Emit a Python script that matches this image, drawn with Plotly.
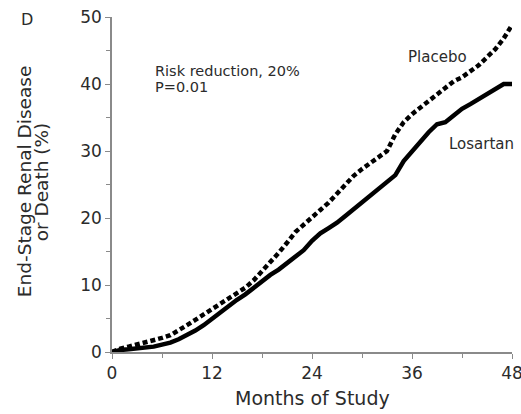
import plotly.graph_objects as go

months = list(range(0, 49))
placebo = [0, 0.5, 0.8, 1.1, 1.4, 1.7, 2.1, 2.5, 3.2, 4.0, 4.8, 5.6, 6.5, 7.2, 8.0, 8.8, 9.6,
           10.7, 12.0, 13.4, 14.8, 16.3, 17.9, 19.0, 20.0, 21.2, 22.3, 23.6, 25.0, 26.3, 27.3,
           28.2, 29.0, 30.0, 32.5, 34.3, 35.5, 36.5, 37.5, 38.6, 39.6, 40.4, 41.0, 41.8, 42.8,
           44.0, 45.2, 46.8, 48.8]
losartan = [0, 0.3, 0.4, 0.5, 0.6, 0.8, 1.1, 1.4, 1.9, 2.5, 3.2, 4.0, 5.0, 6.0, 6.9, 7.8, 8.6,
            9.6, 10.5, 11.5, 12.3, 13.3, 14.2, 15.2, 16.6, 17.7, 18.5, 19.3, 20.3, 21.3, 22.3,
            23.2, 24.2, 25.2, 26.4, 28.5, 30.0, 31.5, 32.8, 34.0, 34.3, 35.3, 36.3, 37.0, 37.8,
            38.6, 39.2, 40.0, 40.0]
x_ticks = [0, 12, 24, 36, 48]
y_ticks = [0, 10, 20, 30, 40, 50]

FONT = "DejaVu Sans, Liberation Sans, Arial, sans-serif"
TXT = "#2b2b2b"
AX = "#8a8a8a"

fig = go.Figure()
fig.add_trace(go.Scatter(x=months, y=losartan, mode="lines", name="Losartan",
                         line=dict(color="black", width=4.5)))
fig.add_trace(go.Scatter(x=months, y=placebo, mode="lines", name="Placebo",
                         line=dict(color="black", width=4.5, dash="5px,3px")))

fig.update_layout(
    width=521, height=414,
    margin=dict(l=112, r=9, t=17, b=62),
    paper_bgcolor="white", plot_bgcolor="white",
    showlegend=False,
    font=dict(family=FONT, color=TXT, size=17),
    xaxis=dict(range=[0, 48], tickvals=x_ticks, showgrid=False, zeroline=False,
               showline=True, linecolor=AX, linewidth=1.5, automargin=False,
               ticks="outside", ticklen=5, tickcolor=AX, tickwidth=1.2,
               ticklabeloverflow="allow",
               minor=dict(dtick=6, tick0=0, ticks="outside", ticklen=4, tickcolor=AX),
               tickfont=dict(size=17, color=TXT)),
    yaxis=dict(range=[0, 50], tickvals=y_ticks, showgrid=False, zeroline=False,
               showline=True, linecolor=AX, linewidth=1.5, automargin=False,
               ticks="outside", ticklen=5, tickcolor=AX, tickwidth=1.2,
               minor=dict(dtick=5, tick0=0, ticks="outside", ticklen=4, tickcolor=AX),
               tickfont=dict(size=17, color=TXT)),
)

def ann(text, x, y, xref="paper", yref="paper", size=16, xanchor="center", angle=0):
    fig.add_annotation(text=text, xref=xref, yref=yref, x=x, y=y, xanchor=xanchor,
                       yanchor="middle", showarrow=False, textangle=angle,
                       font=dict(family=FONT, size=size, color=TXT))

ann("D", -0.2125, 0.994, size=16)
ann("End-Stage Renal Disease", -0.22, 0.507, size=18.5, angle=-90)
ann("or Death (%)", -0.177, 0.507, size=18.5, angle=-90)
ann("Months of Study", 0.5, -0.137, size=19)
ann("Risk reduction, 20%", 4.9, 42.0, xref="x", yref="y", size=14.5, xanchor="left")
ann("P=0.01", 4.9, 39.5, xref="x", yref="y", size=14.5, xanchor="left")
ann("Placebo", 39.1, 44.0, xref="x", yref="y", size=15)
ann("Losartan", 44.3, 31.0, xref="x", yref="y", size=15)

fig.write_html("out.html", post_script="document.body.style.margin='0';",
               config={"displayModeBar": False})
